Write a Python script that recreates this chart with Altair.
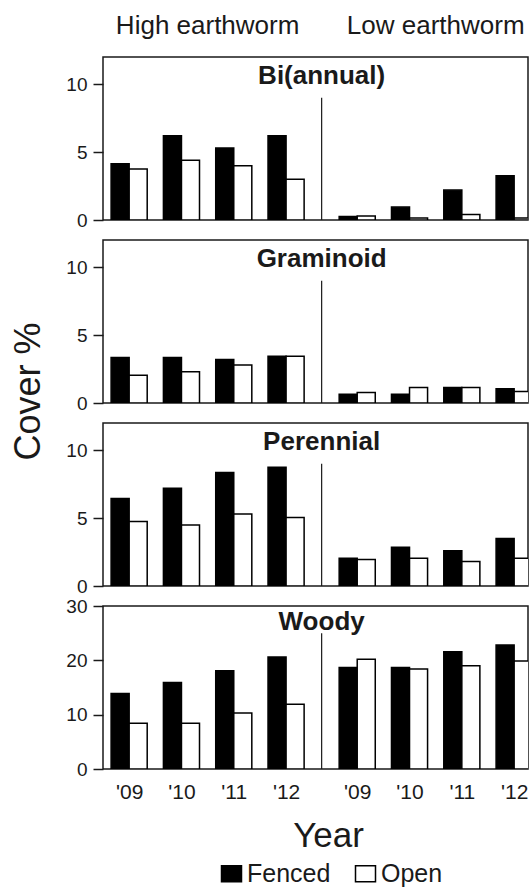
import json

import altair as alt
import pandas as pd

# ---------------------------------------------------------------- data ----
YEARS = ["'09", "'10", "'11", "'12"]
EARTHWORM = ["High earthworm", "Low earthworm"]
TREATMENTS = ["Fenced", "Open"]
GROUPS = ["Bi(annual)", "Graminoid", "Perennial", "Woody"]

# Cover % for '09-'12 at high-earthworm sites, then '09-'12 at low-earthworm sites
bi_fenced = [4.15, 6.2, 5.3, 6.2, 0.25, 0.95, 2.2, 3.25]
bi_open = [3.75, 4.4, 4.0, 3.0, 0.3, 0.15, 0.4, 0.15]
gram_fenced = [3.35, 3.35, 3.2, 3.45, 0.65, 0.65, 1.15, 1.05]
gram_open = [2.05, 2.3, 2.8, 3.45, 0.78, 1.15, 1.15, 0.85]
per_fenced = [6.45, 7.2, 8.35, 8.75, 2.05, 2.85, 2.6, 3.5]
per_open = [4.75, 4.5, 5.3, 5.05, 1.95, 2.05, 1.8, 2.05]
woody_fenced = [13.9, 15.9, 18.1, 20.6, 18.7, 18.7, 21.6, 22.8]
woody_open = [8.4, 8.4, 10.3, 11.9, 20.2, 18.4, 19.0, 19.9]

SERIES = {
    "Bi(annual)": (bi_fenced, bi_open),
    "Graminoid": (gram_fenced, gram_open),
    "Perennial": (per_fenced, per_open),
    "Woody": (woody_fenced, woody_open),
}

# y range, tick values and height of the site divider for each panel
Y_MAX = [12, 12, 12, 30]
Y_TICKS = [[0, 5, 10], [0, 5, 10], [0, 5, 10], [0, 10, 20, 30]]
DIVIDER_TOP = [9, 9, 9, 25]

# ------------------------------------------------------------- layout ----
FONT = "Liberation Sans"
INK = "#1a1a1a"
PANEL_W, PANEL_H = 425, 163
LOW_SHIFT = 4.36          # slot where the low-earthworm years start
BAR_W = 0.345             # bar width in slot units
X_DOMAIN = [-0.5, 7.625]
DIVIDER_X = (3 + LOW_SHIFT) / 2
TITLE_Y = [27, 27, 27, 24]

rows = []
for group, (fenced, opened) in SERIES.items():
    for k in range(8):
        site, yi = divmod(k, 4)
        centre = yi + site * LOW_SHIFT
        for treatment, vals in zip(TREATMENTS, (fenced, opened)):
            start = centre - BAR_W if treatment == "Fenced" else centre
            rows.append(
                dict(group=group, earthworm=EARTHWORM[site], year=YEARS[yi],
                     treatment=treatment, cover=vals[k],
                     x0=start, x1=start + BAR_W)
            )
df = pd.DataFrame(rows)

tick_pos = [yi + site * LOW_SHIFT for site in range(2) for yi in range(4)]
label_expr = (
    f"{json.dumps(YEARS)}"
    f"[round(datum.value > 3.5 ? datum.value - {LOW_SHIFT} : datum.value)]"
)

legend = alt.Legend(
    orient="none", legendX=116, legendY=804, direction="horizontal",
    title=None, symbolType="M-1,-0.8H1V0.8H-1Z", symbolSize=400,
    symbolStrokeColor="black", symbolStrokeWidth=1.5, symbolOpacity=1,
    labelFont=FONT, labelFontSize=25, labelColor=INK, labelOffset=3,
    columnPadding=21,
)


def panel(i):
    group = GROUPS[i]
    bottom = i == len(GROUPS) - 1
    xs = alt.Scale(domain=X_DOMAIN, nice=False, zero=False)
    ys = alt.Scale(domain=[0, Y_MAX[i]], nice=False)

    x_kw = dict(values=tick_pos, labelExpr=label_expr, ticks=False, tickSize=0,
                labels=bottom, labelFontSize=21, labelPadding=12,
                labelFlush=False, title=None)
    if bottom:
        x_kw.update(title="Year", titleFontSize=35, titleFontWeight="normal",
                    titleX=225, titleY=77, titleBaseline="alphabetic")
    y_kw = dict(values=Y_TICKS[i], tickSize=10, tickWidth=1.5,
                labelFontSize=19, labelPadding=6, title=None)
    if i == 1:
        y_kw.update(title="Cover %", titleFontSize=36, titleFontWeight="normal",
                    titleX=-75, titleY=151, titleBaseline="middle")
    x_axis = alt.Axis(**x_kw)
    y_axis = alt.Axis(**y_kw)

    bars = alt.Chart(df[df.group == group]).mark_bar(
        stroke="black", strokeWidth=1.5, clip=True
    ).encode(
        x=alt.X("x0:Q", scale=xs, axis=x_axis),
        x2="x1:Q",
        y=alt.Y("cover:Q", scale=ys, axis=y_axis),
        y2=alt.datum(0),
        fill=alt.Fill("treatment:N",
                      scale=alt.Scale(domain=TREATMENTS, range=["black", "white"]),
                      legend=legend),
    )

    divider = alt.Chart(
        pd.DataFrame({"pos": [DIVIDER_X], "lo": [0], "hi": [DIVIDER_TOP[i]]})
    ).mark_rule(color=INK, strokeWidth=1.2).encode(
        x=alt.X("pos:Q", scale=xs, axis=x_axis),
        y=alt.Y("lo:Q", scale=ys, axis=y_axis),
        y2="hi:Q",
    )

    title = alt.Chart(pd.DataFrame({"pos": [DIVIDER_X], "label": [group]})).mark_text(
        font=FONT, fontSize=26, fontWeight="bold", color=INK, baseline="alphabetic"
    ).encode(
        x=alt.X("pos:Q", scale=xs, axis=x_axis),
        y=alt.value(TITLE_Y[i]),
        text="label:N",
    )

    layers = [bars, divider, title]
    if i == 0:
        headers = alt.Chart(
            pd.DataFrame({"label": EARTHWORM, "pos": [1.5, LOW_SHIFT + 1.5]})
        ).mark_text(font=FONT, fontSize=26, color=INK, baseline="alphabetic").encode(
            x=alt.X("pos:Q", scale=xs, axis=x_axis),
            y=alt.value(-23),
            text="label:N",
        )
        layers.append(headers)

    return alt.layer(*layers).properties(width=PANEL_W, height=PANEL_H)


chart = (
    alt.vconcat(*[panel(i) for i in range(len(GROUPS))], spacing=20, bounds="flush")
    .properties(padding={"left": 9, "top": 12, "right": 0, "bottom": 0})
    .configure_view(stroke=INK, strokeWidth=1.5)
    .configure_axis(labelFont=FONT, titleFont=FONT, labelColor=INK,
                    titleColor=INK, tickColor=INK, grid=False, domain=False)
)

chart.save("out.html", embed_options={"renderer": "svg", "actions": False})
